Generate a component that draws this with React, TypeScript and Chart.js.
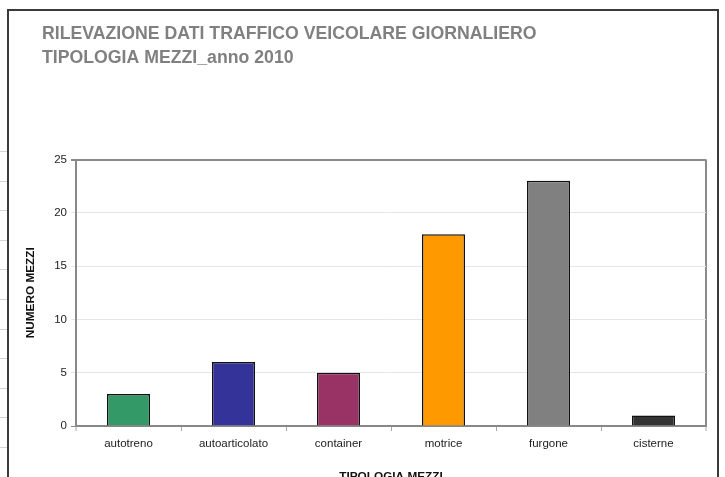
import React, { useEffect, useRef } from "react";
import { Chart, registerables } from "chart.js";

Chart.register(...registerables);

const categories = ["autotreno", "autoarticolato", "container", "motrice", "furgone", "cisterne"];
const values = [3, 6, 5, 18, 23, 1];
const barColors = ["#339966", "#333399", "#993366", "#FF9900", "#808080", "#333333"];
const titleLines = ["RILEVAZIONE DATI TRAFFICO VEICOLARE GIORNALIERO", "TIPOLOGIA MEZZI_anno 2010"];
const yTitle = "NUMERO MEZZI";
const xTitle = "TIPOLOGIA MEZZI";
const yMax = 25;
const yStep = 5;

const FONT = "'Liberation Sans', Arial, Helvetica, sans-serif";

const titleShift = {
  id: "titleShift",
  afterLayout(chart: any) {
    const t = chart.titleBlock;
    if (t) {
      t.left += 33;
      t.right += 33;
    }
  },
};

const isEdge = (ctx: any) => ctx.index === undefined || ctx.index === 0 || ctx.index >= categories.length;

export default function App() {
  const ref = useRef<HTMLCanvasElement>(null);
  useEffect(() => {
    document.documentElement.style.overflow = "hidden";
    document.body.style.overflow = "hidden";
    document.body.style.margin = "0";
    if (!ref.current) return;
    const chart = new Chart(ref.current, {
      type: "bar",
      data: {
        labels: categories,
        datasets: [
          {
            data: values,
            backgroundColor: barColors,
            borderColor: "#111111",
            borderWidth: 1.5,
            barPercentage: 0.41,
            categoryPercentage: 1,
          },
        ],
      },
      plugins: [titleShift],
      options: {
        responsive: false,
        animation: false,
        layout: { padding: { left: 0, right: 11, top: 0, bottom: 13 } },
        plugins: {
          legend: { display: false },
          tooltip: { enabled: false },
          title: {
            display: true,
            text: titleLines,
            align: "start",
            color: "#808080",
            font: { family: FONT, size: 17.7, weight: "bold", lineHeight: 24 / 17.7 },
            padding: { top: 11, bottom: 89.5 },
          },
        },
        scales: {
          x: {
            border: { color: "#888888", width: 2 },
            grid: {
              drawOnChartArea: true,
              color: (ctx: any) => (isEdge(ctx) ? "#8a8a8a" : "rgba(0,0,0,0)"),
              lineWidth: (ctx: any) => (isEdge(ctx) ? 2 : 1),
              tickColor: "#aaaaaa",
              tickLength: 5,
              tickWidth: 1,
            },
            ticks: {
              color: "#222222",
              font: { family: FONT, size: 11.5 },
              padding: 6,
              maxRotation: 0,
            },
            title: {
              display: true,
              text: xTitle,
              color: "#111111",
              font: { family: FONT, size: 11.8, weight: "bold" },
              padding: { top: 13, bottom: 4 },
            },
          },
          y: {
            min: 0,
            max: yMax,
            border: { color: "#888888", width: 2 },
            grid: {
              color: (ctx: any) => (ctx.tick && ctx.tick.value === yMax ? "#8a8a8a" : "#e6e6e6"),
              lineWidth: (ctx: any) => (ctx.tick && ctx.tick.value === yMax ? 2 : 1),
              tickColor: (ctx: any) =>
                ctx.tick && (ctx.tick.value === yMax || ctx.tick.value === 0) ? "#8a8a8a" : "#e6e6e6",
              tickLength: 5,
            },
            ticks: {
              stepSize: yStep,
              color: "#222222",
              font: { family: FONT, size: 11.5 },
              padding: 4,
            },
            title: {
              display: true,
              text: yTitle,
              color: "#111111",
              font: { family: FONT, size: 11.8, weight: "bold" },
              padding: { top: 14.2, bottom: 18 },
            },
            afterFit: (scale: any) => {
              scale.width = 67;
            },
          },
        },
      },
    });
    return () => chart.destroy();
  }, []);

  return (
    <div style={{ position: "relative", width: 725, height: 477, overflow: "hidden" }}>
      <div
        style={{
          position: "absolute",
          left: 0,
          top: 151,
          width: 7,
          height: 326,
          background: "repeating-linear-gradient(to bottom, #d4d4d4 0px, #d4d4d4 1px, transparent 1px, transparent 29.6px)",
        }}
      />
      <div
        style={{
          position: "absolute",
          left: 7,
          top: 9,
          width: 712,
          height: 468,
          boxSizing: "border-box",
          borderTop: "2px solid #3a3a3a",
          borderLeft: "2px solid #3a3a3a",
          borderRight: "2px solid #3a3a3a",
          background: "#ffffff",
          overflow: "hidden",
        }}
      >
        <canvas ref={ref} width={708} height={490} style={{ display: "block", width: 708, height: 490 }} />
      </div>
    </div>
  );
}
